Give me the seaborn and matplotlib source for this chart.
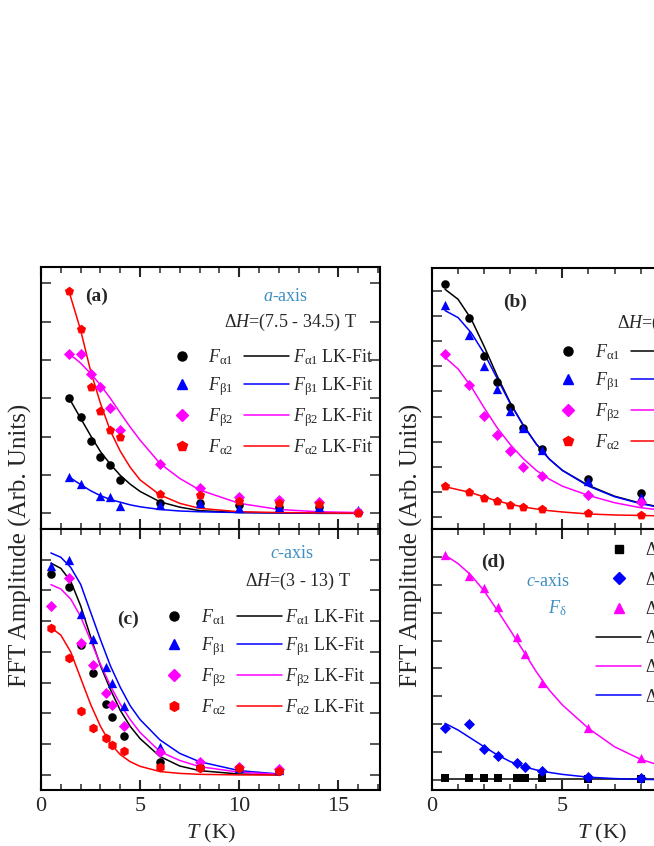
import numpy as np
import pandas as pd
import matplotlib
matplotlib.use("Agg")
import matplotlib.pyplot as plt
from matplotlib.lines import Line2D
from matplotlib.ticker import MultipleLocator
import seaborn as sns

# ---------------------------------------------------------------
# data (arbitrary amplitude units, 1 = one y tick)
# ---------------------------------------------------------------
# (a) a-axis, dH = 7.5 - 34.5 T
T_a = [1.4, 2.0, 2.5, 3.0, 3.5, 4.0, 6, 8, 10, 12, 14, 16]
T_a_beta1 = [1.4, 2.0, 3.0, 3.5, 4.0, 6, 8, 10, 12, 14, 16]
a_alpha1 = [3.02, 2.52, 1.89, 1.48, 1.27, 0.87, 0.28, 0.26, 0.22, 0.17, 0.16, 0.04]
a_beta1 = [0.96, 0.76, 0.45, 0.42, 0.19, 0.22, 0.26, 0.13, 0.17, 0.16, 0.09]
a_beta2 = [4.15, 4.15, 3.63, 3.30, 2.76, 2.17, 1.28, 0.65, 0.42, 0.35, 0.29, 0.03]
a_alpha2 = [5.81, 4.81, 3.30, 2.67, 2.17, 2.00, 0.50, 0.48, 0.32, 0.26, 0.24, 0.02]

T_a_fit = [1.4, 1.7, 2.0, 2.5, 3.0, 3.5, 4.0, 4.5, 5, 6, 7, 8, 10, 12, 14, 16]
a_fit_alpha1 = [3.02, 2.75, 2.48, 2.03, 1.61, 1.28, 0.99, 0.76, 0.57, 0.30, 0.16, 0.07, 0.02, 0.01, 0.0, 0.0]
a_fit_beta1 = [0.96, 0.85, 0.75, 0.59, 0.46, 0.36, 0.29, 0.22, 0.17, 0.10, 0.06, 0.04, 0.02, 0.01, 0.0, 0.0]
a_fit_beta2 = [4.15, 4.05, 3.92, 3.65, 3.35, 3.00, 2.62, 2.25, 1.91, 1.30, 0.91, 0.61, 0.26, 0.10, 0.04, 0.02]
a_fit_alpha2 = [5.81, 5.30, 4.78, 3.72, 2.87, 2.15, 1.62, 1.20, 0.87, 0.48, 0.26, 0.13, 0.04, 0.02, 0.01, 0.0]

# (b)
T_b = [0.5, 1.4, 2.0, 2.5, 3.0, 3.5, 4.2, 6, 8]
b_alpha1 = [9.28, 7.93, 6.43, 5.38, 4.39, 3.55, 2.70, 1.50, 0.96]
b_beta1 = [8.47, 7.27, 6.00, 5.09, 4.22, 3.55, 2.68, 1.41, 0.80]
b_beta2 = [6.49, 5.26, 4.02, 3.28, 2.61, 1.98, 1.61, 0.87, 0.60]
b_alpha2 = [1.23, 1.00, 0.74, 0.64, 0.47, 0.37, 0.29, 0.13, 0.07]

T_b_fit = [0.5, 1.0, 1.5, 2.0, 2.5, 3.0, 3.5, 4.0, 4.5, 5, 6, 7, 8, 9]
b_fit_alpha1 = [9.08, 8.68, 7.90, 6.80, 5.62, 4.55, 3.65, 2.90, 2.30, 1.85, 1.25, 0.82, 0.54, 0.33]
b_fit_beta1 = [8.23, 7.95, 7.35, 6.52, 5.52, 4.52, 3.65, 2.90, 2.30, 1.85, 1.22, 0.80, 0.52, 0.32]
b_fit_beta2 = [6.36, 5.90, 5.20, 4.35, 3.55, 2.88, 2.32, 1.85, 1.50, 1.22, 0.85, 0.56, 0.36, 0.24]
b_fit_alpha2 = [1.20, 1.08, 0.96, 0.79, 0.63, 0.50, 0.39, 0.31, 0.24, 0.19, 0.11, 0.07, 0.05, 0.03]

# (c) c-axis, dH = 3 - 13 T
T_c = [0.5, 1.4, 2.0, 2.6, 3.3, 3.6, 4.2, 6, 8, 10, 12]
c_alpha1 = [6.55, 6.11, 4.22, 3.30, 2.31, 1.87, 1.27, 0.41, 0.25, 0.22, 0.14]
c_beta1 = [6.80, 6.98, 5.22, 4.42, 3.50, 3.00, 2.24, 0.92, 0.29, 0.22, 0.16]
c_beta2 = [5.49, 6.39, 4.30, 3.57, 2.65, 2.27, 1.59, 0.74, 0.41, 0.25, 0.18]
c_alpha2 = [4.78, 3.81, 2.08, 1.52, 1.19, 0.97, 0.79, 0.25, 0.22, 0.22, 0.14]

T_c_fit = [0.5, 1.0, 1.5, 2.0, 2.5, 3.0, 3.5, 4.0, 4.5, 5, 6, 7, 8, 10, 12]
c_fit_alpha1 = [6.89, 6.72, 6.30, 5.50, 4.50, 3.55, 2.78, 2.10, 1.58, 1.18, 0.60, 0.29, 0.14, 0.03, 0.0]
c_fit_beta1 = [7.22, 7.08, 6.75, 6.20, 5.30, 4.40, 3.55, 2.85, 2.25, 1.80, 1.14, 0.70, 0.43, 0.14, 0.03]
c_fit_beta2 = [6.19, 6.05, 5.72, 5.15, 4.38, 3.60, 2.90, 2.30, 1.80, 1.38, 0.76, 0.47, 0.27, 0.09, 0.02]
c_fit_alpha2 = [4.79, 4.55, 4.00, 3.15, 2.30, 1.58, 1.02, 0.66, 0.43, 0.28, 0.11, 0.05, 0.02, 0.0, 0.0]

# (d) c-axis, F_delta
T_d = [0.5, 1.4, 2.0, 2.55, 3.25, 3.55, 4.2, 6, 8]
d_black = [0.06, 0.06, 0.06, 0.06, 0.06, 0.06, 0.06, 0.04, 0.04]
d_blue = [1.85, 1.99, 1.12, 0.87, 0.60, 0.48, 0.32, 0.12, 0.06]
d_magenta = [8.06, 7.31, 6.87, 6.21, 5.11, 4.50, 3.49, 1.85, 0.80]

T_d_fit = [0.5, 1.0, 1.5, 2.0, 2.5, 3.0, 3.5, 4.0, 4.5, 5, 6, 7, 8, 9]
d_fit_black = [0.02, 0.02, 0.02, 0.02, 0.02, 0.02, 0.02, 0.02, 0.02, 0.02, 0.02, 0.02, 0.02, 0.02]
d_fit_magenta = [8.06, 7.76, 7.34, 6.78, 6.09, 5.37, 4.63, 3.88, 3.22, 2.69, 1.85, 1.19, 0.74, 0.45]
d_fit_blue = [2.03, 1.79, 1.49, 1.19, 0.90, 0.66, 0.48, 0.36, 0.27, 0.20, 0.10, 0.05, 0.02, 0.01]

lab_fa1 = r"$F_{\mathrm{\alpha 1}}$"
lab_fb1 = r"$F_{\mathrm{\beta 1}}$"
lab_fb2 = r"$F_{\mathrm{\beta 2}}$"
lab_fa2 = r"$F_{\mathrm{\alpha 2}}$"
d_labels = [r"$\Delta H$=(3 - 6) T", r"$\Delta H$=(6 - 9) T", r"$\Delta H$=(9 - 13) T"]

# ---------------------------------------------------------------
sns.set_style("ticks")
plt.rcParams["font.family"] = ["Liberation Serif", "DejaVu Serif"]
plt.rcParams["mathtext.fontset"] = "custom"
plt.rcParams["mathtext.rm"] = "Liberation Serif"
plt.rcParams["mathtext.it"] = "Liberation Serif:italic"
plt.rcParams["mathtext.bf"] = "Liberation Serif:bold"

BLACK, BLUE, MAG, RED = "#000000", "#0000ff", "#ff00ff", "#ff0000"
NOTE = "#3d8ec2"

W, H = 654, 846
fig = plt.figure(figsize=(W / 100, H / 100), dpi=100)


def px_axes(x0, y_top, w, h):
    return fig.add_axes([x0 / W, 1 - (y_top + h) / H, w / W, h / H])


ax_a = px_axes(41, 267, 339, 262)
ax_c = px_axes(41, 529, 339, 261)
ax_b = px_axes(432, 268, 339, 261)
ax_d = px_axes(432, 529, 339, 261)


def style(ax, xmax, ylim, nticks, bottom_labels):
    ax.set_xlim(0, xmax)
    ax.set_ylim(*ylim)
    ax.xaxis.set_major_locator(MultipleLocator(5))
    ax.xaxis.set_minor_locator(MultipleLocator(1))
    ax.set_yticks(range(nticks + 1))
    ax.tick_params(which="both", direction="in", top=True, right=True,
                   labelleft=False, labelbottom=bottom_labels, labelsize=16, pad=5)
    ax.tick_params(axis="y", which="major", length=7, width=1.1)
    ax.tick_params(axis="x", which="major", length=7, width=1.5)
    ax.tick_params(axis="x", which="minor", length=4.3, width=1.1)
    for s in ax.spines.values():
        s.set_linewidth(1.5)
        s.set_color("black")
    ax.set_xlabel("")
    ax.set_ylabel("")
    if bottom_labels:
        ax.set_xlabel(r"$T$ (K)", fontsize=16, labelpad=4)


def draw(ax, T, y, Tf, yf, color, marker, s):
    if Tf is not None:
        sns.lineplot(x=Tf, y=yf, ax=ax, color=color, lw=1.1, sort=False,
                     estimator=None, legend=False, zorder=2)
    if T is not None:
        sns.scatterplot(x=T, y=y, ax=ax, color=color, marker=marker, s=s,
                        linewidth=0, legend=False, zorder=3)


def lk_legend(ax, red_marker, x, y):
    mk = [Line2D([], [], ls="none", marker="o", color=BLACK, ms=6.5),
          Line2D([], [], ls="none", marker="^", color=BLUE, ms=7),
          Line2D([], [], ls="none", marker="D", color=MAG, ms=6),
          Line2D([], [], ls="none", marker=red_marker, color=RED, ms=7)]
    ln = [Line2D([], [], color=c, lw=1.1) for c in (BLACK, BLUE, MAG, RED)]
    labs = [lab_fa1, lab_fb1, lab_fb2, lab_fa2]
    ax.legend(mk + ln, labs + [l + " LK-Fit" for l in labs], ncol=2,
              loc="center left", bbox_to_anchor=(x, y), frameon=False,
              fontsize=13, handlelength=2.5, handletextpad=0.2,
              columnspacing=0.6, labelspacing=0.45, borderpad=0, borderaxespad=0)


# (a)
draw(ax_a, None, None, T_a_fit, a_fit_alpha1, BLACK, "o", 38)
draw(ax_a, None, None, T_a_fit, a_fit_beta1, BLUE, "^", 45)
draw(ax_a, None, None, T_a_fit, a_fit_beta2, MAG, "D", 32)
draw(ax_a, None, None, T_a_fit, a_fit_alpha2, RED, "p", 48)
draw(ax_a, T_a, a_alpha1, None, None, BLACK, "o", 38)
draw(ax_a, T_a_beta1, a_beta1, None, None, BLUE, "^", 45)
draw(ax_a, T_a, a_beta2, None, None, MAG, "D", 32)
draw(ax_a, T_a, a_alpha2, None, None, RED, "p", 48)
style(ax_a, 17.1, (-0.41, 6.43), 6, False)
ax_a.text(0.165, 0.889, "(a)", transform=ax_a.transAxes, ha="center", va="center",
          fontsize=14, fontweight="bold")
ax_a.text(0.723, 0.889, r"$a$-axis", transform=ax_a.transAxes, ha="center",
          va="center", fontsize=13, color=NOTE)
ax_a.text(0.737, 0.79, r"$\Delta H$=(7.5 - 34.5) T", transform=ax_a.transAxes,
          ha="center", va="center", fontsize=13)
lk_legend(ax_a, "p", 0.348, 0.483)

# (c)
draw(ax_c, None, None, T_c_fit, c_fit_alpha1, BLACK, "o", 38)
draw(ax_c, None, None, T_c_fit, c_fit_beta1, BLUE, "^", 45)
draw(ax_c, None, None, T_c_fit, c_fit_beta2, MAG, "D", 32)
draw(ax_c, None, None, T_c_fit, c_fit_alpha2, RED, "h", 48)
draw(ax_c, T_c, c_alpha1, None, None, BLACK, "o", 38)
draw(ax_c, T_c, c_beta1, None, None, BLUE, "^", 45)
draw(ax_c, T_c, c_beta2, None, None, MAG, "D", 32)
draw(ax_c, T_c, c_alpha2, None, None, RED, "h", 48)
style(ax_c, 17.1, (-0.49, 8.0), 7, True)
ax_c.text(0.74, 0.908, r"$c$-axis", transform=ax_c.transAxes, ha="center",
          va="center", fontsize=13, color=NOTE)
ax_c.text(0.758, 0.80, r"$\Delta H$=(3 - 13) T", transform=ax_c.transAxes,
          ha="center", va="center", fontsize=13)
ax_c.text(0.257, 0.655, "(c)", transform=ax_c.transAxes, ha="center", va="center",
          fontsize=14, fontweight="bold")
lk_legend(ax_c, "h", 0.327, 0.49)

# (b)
draw(ax_b, None, None, T_b_fit, b_fit_alpha1, BLACK, "o", 38)
draw(ax_b, None, None, T_b_fit, b_fit_beta1, BLUE, "^", 45)
draw(ax_b, None, None, T_b_fit, b_fit_beta2, MAG, "D", 32)
draw(ax_b, None, None, T_b_fit, b_fit_alpha2, RED, "p", 48)
draw(ax_b, T_b, b_alpha1, None, None, BLACK, "o", 38)
draw(ax_b, T_b, b_beta1, None, None, BLUE, "^", 45)
draw(ax_b, T_b, b_beta2, None, None, MAG, "D", 32)
draw(ax_b, T_b, b_alpha2, None, None, RED, "p", 48)
style(ax_b, 13.0, (-0.49, 9.93), 9, False)
ax_b.text(0.245, 0.87, "(b)", transform=ax_b.transAxes, ha="center", va="center",
          fontsize=14, fontweight="bold")
ax_b.text(0.546, 0.789, r"$\Delta H$=(0.5 - 13) T", transform=ax_b.transAxes,
          ha="left", va="center", fontsize=13)
lk_legend(ax_b, "p", 0.336, 0.506)

# (d)
draw(ax_d, None, None, T_d_fit, d_fit_black, BLACK, "s", 26)
draw(ax_d, None, None, T_d_fit, d_fit_magenta, MAG, "^", 45)
draw(ax_d, None, None, T_d_fit, d_fit_blue, BLUE, "D", 32)
draw(ax_d, T_d, d_black, None, None, BLACK, "s", 26)
draw(ax_d, T_d, d_blue, None, None, BLUE, "D", 32)
draw(ax_d, T_d, d_magenta, None, None, MAG, "^", 45)
style(ax_d, 13.0, (-0.36, 9.0), 8, True)
ax_d.text(0.18, 0.874, "(d)", transform=ax_d.transAxes, ha="center", va="center",
          fontsize=14, fontweight="bold")
ax_d.text(0.342, 0.797, r"$c$-axis", transform=ax_d.transAxes, ha="center",
          va="center", fontsize=13, color=NOTE)
ax_d.text(0.369, 0.697, r"$F_{\mathrm{\delta}}$", transform=ax_d.transAxes,
          ha="center", va="center", fontsize=13, color=NOTE)
d_handles = [Line2D([], [], ls="none", marker="s", color=BLACK, ms=5.5),
             Line2D([], [], ls="none", marker="D", color=BLUE, ms=6),
             Line2D([], [], ls="none", marker="^", color=MAG, ms=7),
             Line2D([], [], color=BLACK, lw=1.1),
             Line2D([], [], color=MAG, lw=1.1),
             Line2D([], [], color=BLUE, lw=1.1)]
ax_d.legend(d_handles, d_labels + d_labels, loc="center left",
            bbox_to_anchor=(0.484, 0.636), frameon=False, fontsize=13,
            handlelength=2.5, handletextpad=0.2, labelspacing=0.45,
            borderpad=0, borderaxespad=0)

# shared y labels
for xp in (20, 411):
    fig.text(xp / W, 1 - 545 / H, "FFT Amplitude (Arb. Units)", rotation=90,
             ha="center", va="center", fontsize=18)

fig.savefig("out.png", dpi=100)
